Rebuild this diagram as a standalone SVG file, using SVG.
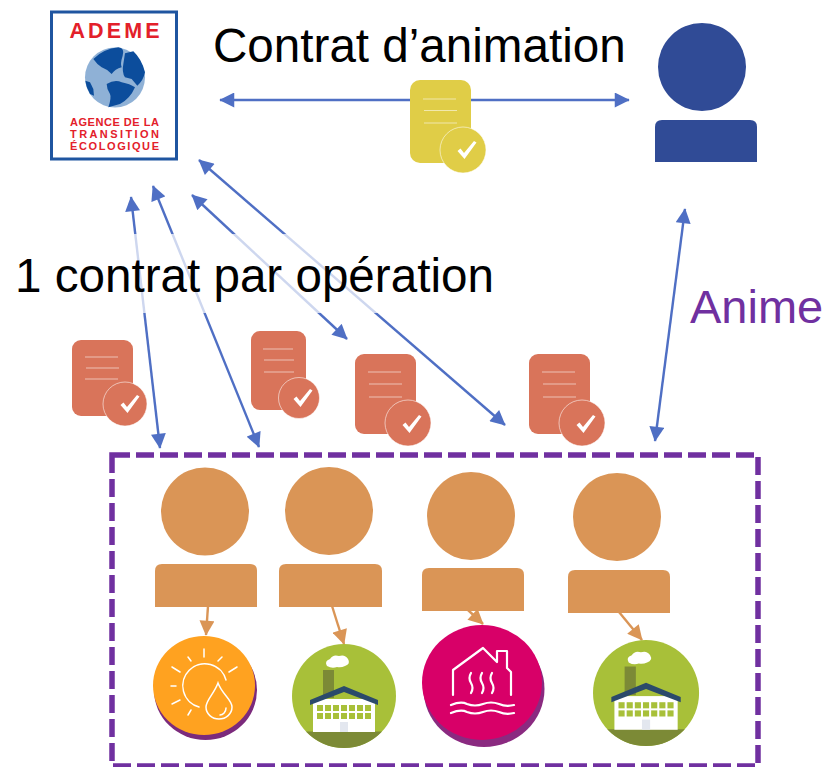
<svg xmlns="http://www.w3.org/2000/svg" width="828" height="767" viewBox="0 0 828 767">
<style>
text{font-family:"Liberation Sans",Arial,sans-serif}
.big{font-size:47.600px;fill:#000}
.blue{fill:none;stroke:#4f6fc4;stroke-width:2.400;marker-start:url(#ab);marker-end:url(#ab)}
.or{fill:none;stroke:#da9556;stroke-width:2.400;marker-end:url(#ao)}
.ln{stroke:#fff;stroke-width:1.200;opacity:.55}
.ring{stroke:#fff;stroke-opacity:.55;stroke-width:1}
.chk{fill:#fff}
.wl{fill:none;stroke:#fff;stroke-width:1.500;stroke-linecap:round}
.wh{fill:none;stroke:#fff;stroke-width:2.200;stroke-linecap:round;stroke-linejoin:round}
.p{fill:#da9556}
.lg{font-weight:bold;fill:#e3202a}
.y{fill:#e0cd47}
.r{fill:#d9745a}
</style>
<defs>
<marker id="ab" viewBox="0 0 10 10" refX="9.500" refY="5" markerUnits="userSpaceOnUse" markerWidth="16" markerHeight="15" orient="auto-start-reverse"><path d="M0 0L10 5L0 10z" fill="#4f6fc4"/></marker>
<marker id="ao" viewBox="0 0 10 10" refX="9.500" refY="5" markerUnits="userSpaceOnUse" markerWidth="16" markerHeight="15" orient="auto"><path d="M0 0L10 5L0 10z" fill="#da9556"/></marker>
<path id="check" class="chk" d="M-9.500 1L-6.500 -1.500L-3 3L7 -9L9.500 -7.500L-2.500 9z"/>
<g id="factory"><circle cx="52" cy="52" r="52" fill="#a8c039"/><path d="M14 87.500H90A52 52 0 0 1 14 87.500z" fill="#7c8a36"/><rect x="31" y="26" width="11" height="28" fill="#7c8a36"/><path d="M35 22q-3-5 3-7q3-5 9-3q6-2 9 3q3 5-3 7q-4 2-8 1q-5 2-10-1z" fill="#fff"/><rect x="21" y="55" width="62" height="33" fill="#fff"/><path d="M18 56L52 42L86 56V61L52 48L18 61z" fill="#2b4a6b"/><g fill="#a8c039"><rect x="25" y="61" width="6" height="6"/><rect x="33" y="61" width="6" height="6"/><rect x="41" y="61" width="6" height="6"/><rect x="49" y="61" width="6" height="6"/><rect x="57" y="61" width="6" height="6"/><rect x="65" y="61" width="6" height="6"/><rect x="73" y="61" width="6" height="6"/><rect x="25" y="69" width="6" height="6"/><rect x="33" y="69" width="6" height="6"/><rect x="41" y="69" width="6" height="6"/><rect x="49" y="69" width="6" height="6"/><rect x="57" y="69" width="6" height="6"/><rect x="65" y="69" width="6" height="6"/><rect x="73" y="69" width="6" height="6"/></g><rect x="48" y="78" width="8" height="10" fill="#e3e7ef"/></g>
</defs>
<g id="connectors">
<path class="blue" d="M220 100H629"/>
<path class="blue" d="M131 197L160 448"/>
<path class="blue" d="M153 186L259 447"/>
<path class="blue" d="M192 195L347 339"/>
<path class="blue" d="M199 160L505 425"/>
<path class="blue" d="M685 209L655 441"/>
<path class="or" d="M208 606L206 635"/>
<path class="or" d="M332 606L344 644"/>
<path class="or" d="M468 610L483 624"/>
<path class="or" d="M619 612L642 640"/>
</g>
<rect x="10" y="234" width="490" height="79" fill="#fff" fill-opacity=".72"/>
<g id="label-contrat-animation"><text class="big" x="213" y="62">Contrat d’animation</text></g>
<g id="label-contrat-operation"><text class="big" x="15" y="292">1 contrat par opération</text></g>
<g id="label-anime"><text x="690" y="323" font-size="47" fill="#7030a0">Anime</text></g>
<g id="ademe">
<rect x="51.500" y="12" width="125" height="147" fill="#fff" stroke="#1f55a0" stroke-width="3"/>
<text class="lg" x="69.500" y="38" font-size="21.500" textLength="90">ADEME</text>
<circle cx="115" cy="77.500" r="30" fill="#8fb1d6"/>
<g transform="translate(80 44) scale(.3333)" fill="#0c4d9c">
<path d="M16 110L30 115L40 135L42 155L30 150Q18 130 16 110z"/>
<path d="M40 45Q70 15 115 10Q135 12 128 35Q120 60 125 70Q105 75 95 90Q80 75 65 70Q50 60 40 45z"/>
<path d="M135 28L160 22Q185 45 195 85Q190 110 172 125L155 105L135 100Q125 85 130 60z"/>
<path d="M80 120Q105 105 125 115Q150 120 165 130Q150 165 120 180L85 190Q95 160 90 150Q80 135 80 120z"/>
</g>
<text class="lg" x="70" y="126" font-size="11" textLength="89">AGENCE DE LA</text>
<text class="lg" x="70" y="138" font-size="11" textLength="89">TRANSITION</text>
<text class="lg" x="70" y="150" font-size="11" textLength="89">ÉCOLOGIQUE</text>
</g>
<g id="animateur"><circle cx="702" cy="67" r="44" fill="#304b96"/><path d="M655 162V127q0-7 7-7H750q7 0 7 7V162z" fill="#304b96"/></g>
<g id="doc-animation" class="y"><rect x="410" y="80" width="61" height="83" rx="10"/><path class="ln" d="M423 99H456M424 110.500H457M424 123H457"/><circle class="ring" cx="463" cy="150" r="23"/><use href="#check" x="467" y="150"/></g>
<g id="doc-1" class="r"><rect x="72" y="340" width="61" height="76" rx="9"/><path class="ln" d="M85 357H118M86 368H119M85 379H118"/><circle class="ring" cx="125" cy="404" r="22"/><use href="#check" x="130" y="404"/></g>
<g id="doc-2" class="r"><rect x="251" y="331" width="55" height="79" rx="9"/><path class="ln" d="M263 349H293M264 360H294M264 372H294"/><circle class="ring" cx="299" cy="398" r="20.500"/><use href="#check" x="303" y="398"/></g>
<g id="doc-3" class="r"><rect x="355" y="354" width="61" height="80" rx="9"/><path class="ln" d="M368 372H401M369 384H402M369 397H402"/><circle class="ring" cx="408" cy="423" r="23"/><use href="#check" x="412" y="424"/></g>
<g id="doc-4" class="r"><rect x="529" y="354" width="61" height="80" rx="9"/><path class="ln" d="M542 372H575M543 384H576M543 397H576"/><circle class="ring" cx="582" cy="423" r="23"/><use href="#check" x="586" y="424"/></g>
<g id="group-box"><rect x="112" y="455" width="646" height="311" fill="none" stroke="#7030a0" stroke-width="5.500" stroke-dasharray="18 6"/></g>
<g id="person-1"><circle class="p" cx="205" cy="511.500" r="44"/><path class="p" d="M155 607V571q0-7 7-7H250q7 0 7 7V607z"/></g>
<g id="person-2"><circle class="p" cx="329" cy="511" r="44"/><path class="p" d="M279 607V571q0-7 7-7H375q7 0 7 7V607z"/></g>
<g id="person-3"><circle class="p" cx="471" cy="516" r="44"/><path class="p" d="M422 611V575q0-7 7-7H517q7 0 7 7V611z"/></g>
<g id="person-4"><circle class="p" cx="617" cy="517" r="44"/><path class="p" d="M568 613V577q0-7 7-7H663q7 0 7 7V613z"/></g>
<g id="icon-solar">
<ellipse cx="205.500" cy="690" rx="51.500" ry="50" fill="#7b2a7c"/><ellipse cx="204" cy="685.500" rx="51" ry="49.500" fill="#ffa220"/>
<path class="wl" d="M226 680A22 22 0 1 0 199 707"/>
<path class="wl" d="M218 683C214 694 206 700 206 707C206 714 212 719 219 719C226 719 232 714 232 707C232 700 222 694 218 683zM226 708C226 712 223 715 220 715"/>
<path class="wl" d="M204 649V657M188 657L191 661M222 657L218 661M172 667L180 672M237 667L229 672M171 686H176M172 704L180 700M188 715L191 710"/>
</g>
<use id="icon-factory-1" href="#factory" x="292" y="644"/>
<g id="icon-heat">
<ellipse cx="484" cy="689" rx="60.500" ry="58" fill="#8a2a80"/><ellipse cx="482" cy="682.500" rx="60" ry="57.500" fill="#d80068"/>
<path class="wh" d="M453 695V670L483 648L497 662V651H507V668L511 672V695"/>
<path class="wh" d="M471 673q-3 5 0 10q3 5 0 10M482 673q-3 5 0 10q3 5 0 10M492 673q-3 5 0 10q3 5 0 10"/>
<path class="wh" d="M451 705q10-4 16-1q8 3 16 0q8-3 16 0q7 3 15 1M451 713q10-4 16-1q8 3 16 0q8-3 16 0q7 3 15 1"/>
</g>
<use id="icon-factory-2" href="#factory" transform="translate(593 640) scale(1.020)"/>
</svg>
